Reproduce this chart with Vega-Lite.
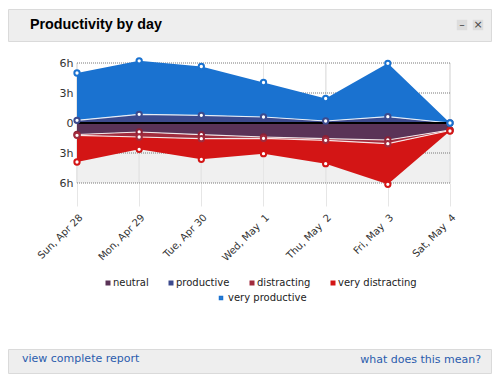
{
  "$schema": "https://vega.github.io/schema/vega-lite/v6.json",
  "background": "white",
  "padding": {"left": 7, "top": 8, "right": 8, "bottom": 9},
  "spacing": 0,
  "bounds": "flush",
  "config": {
    "view": {"stroke": null},
    "font": "DejaVu Sans",
    "axisX": {
      "labelAngle": -45, "labelAlign": "right", "labelBaseline": "top",
      "labelPadding": 6, "labelFontSize": 10, "labelColor": "#333333",
      "tickSize": 23, "tickColor": "#e6e6e6", "domain": false, "grid": false,
      "labelFlush": false, "labelOverlap": false, "labelBound": false
    },
    "axisY": {
      "domain": false, "ticks": false, "grid": false,
      "labelFontSize": 11, "labelColor": "#333333", "labelPadding": 1
    }
  },
  "title": {"text": "what does this mean?", "orient": "bottom", "anchor": "end", "frame": "group", "offset": -11, "dx": -10, "baseline": "alphabetic", "font": "DejaVu Sans", "fontSize": 11, "fontWeight": "normal", "color": "#2b5cad"},
  "resolve": {"scale": {"x": "independent", "y": "independent"}},
  "vconcat": [
    {
      "width": 483, "height": 32,
      "view": {"fill": "#eeeeee", "stroke": "#dadada"},
      "title": {"text": "Productivity by day", "orient": "top", "anchor": "start", "frame": "group", "offset": -34.5, "dx": 22, "baseline": "alphabetic", "font": "Liberation Sans", "fontSize": 14.3, "fontWeight": "bold", "color": "#000000"},
      "data": {"values": [{"button": "–"}, {"button": "×"}]},
      "encoding": {"x": {"field": "button", "type": "nominal", "sort": null, "scale": {"type": "point", "range": [454, 470], "padding": 0}, "axis": null}},
      "layer": [
        {"mark": {"type": "point", "shape": "square", "size": 110, "filled": true, "color": "#dddddd", "opacity": 1}},
        {"mark": {"type": "text", "fontSize": 11, "color": "#444444"}, "encoding": {"text": {"field": "button"}}}
      ]
    },
    {"width": 483, "height": 22, "data": {"values": []}, "mark": "point"},
    {
      "width": 483, "height": 120,
      "data": {"values": [
        {"date": "2013-04-28", "series": "neutral", "rank": 1, "hours": -1.15},
        {"date": "2013-04-28", "series": "productive", "rank": 2, "hours": 0.27},
        {"date": "2013-04-28", "series": "distracting", "rank": 3, "hours": -0.08},
        {"date": "2013-04-28", "series": "very distracting", "rank": 4, "hours": -2.67},
        {"date": "2013-04-28", "series": "very productive", "rank": 5, "hours": 4.73},
        {"date": "2013-04-29", "series": "neutral", "rank": 1, "hours": -0.9},
        {"date": "2013-04-29", "series": "productive", "rank": 2, "hours": 0.87},
        {"date": "2013-04-29", "series": "distracting", "rank": 3, "hours": -0.5},
        {"date": "2013-04-29", "series": "very distracting", "rank": 4, "hours": -1.23},
        {"date": "2013-04-29", "series": "very productive", "rank": 5, "hours": 5.35},
        {"date": "2013-04-30", "series": "neutral", "rank": 1, "hours": -1.17},
        {"date": "2013-04-30", "series": "productive", "rank": 2, "hours": 0.77},
        {"date": "2013-04-30", "series": "distracting", "rank": 3, "hours": -0.4},
        {"date": "2013-04-30", "series": "very distracting", "rank": 4, "hours": -2.06},
        {"date": "2013-04-30", "series": "very productive", "rank": 5, "hours": 4.88},
        {"date": "2013-05-01", "series": "neutral", "rank": 1, "hours": -1.4},
        {"date": "2013-05-01", "series": "productive", "rank": 2, "hours": 0.6},
        {"date": "2013-05-01", "series": "distracting", "rank": 3, "hours": -0.13},
        {"date": "2013-05-01", "series": "very distracting", "rank": 4, "hours": -1.54},
        {"date": "2013-05-01", "series": "very productive", "rank": 5, "hours": 3.45},
        {"date": "2013-05-02", "series": "neutral", "rank": 1, "hours": -1.57},
        {"date": "2013-05-02", "series": "productive", "rank": 2, "hours": 0.2},
        {"date": "2013-05-02", "series": "distracting", "rank": 3, "hours": -0.16},
        {"date": "2013-05-02", "series": "very distracting", "rank": 4, "hours": -2.34},
        {"date": "2013-05-02", "series": "very productive", "rank": 5, "hours": 2.25},
        {"date": "2013-05-03", "series": "neutral", "rank": 1, "hours": -1.7},
        {"date": "2013-05-03", "series": "productive", "rank": 2, "hours": 0.63},
        {"date": "2013-05-03", "series": "distracting", "rank": 3, "hours": -0.37},
        {"date": "2013-05-03", "series": "very distracting", "rank": 4, "hours": -4.06},
        {"date": "2013-05-03", "series": "very productive", "rank": 5, "hours": 5.34},
        {"date": "2013-05-04", "series": "neutral", "rank": 1, "hours": -0.7},
        {"date": "2013-05-04", "series": "productive", "rank": 2, "hours": 0},
        {"date": "2013-05-04", "series": "distracting", "rank": 3, "hours": -0.05},
        {"date": "2013-05-04", "series": "very distracting", "rank": 4, "hours": -0.05},
        {"date": "2013-05-04", "series": "very productive", "rank": 5, "hours": 0}
      ]},
      "transform": [{"stack": "hours", "groupby": ["date"], "sort": [{"field": "rank", "order": "ascending"}], "as": ["y0", "y1"], "offset": "zero"}],
      "layer": [
        {
          "data": {"values": [{}]},
          "mark": {"type": "rect", "color": "#f0f0f0"},
          "encoding": {
            "x": {"datum": {"year": 2013, "month": 4, "date": 28, "utc": true}, "type": "temporal",
              "axis": {"title": null, "values": [{"year": 2013, "month": 4, "date": 28, "utc": true}, {"year": 2013, "month": 4, "date": 29, "utc": true}, {"year": 2013, "month": 4, "date": 30, "utc": true}, {"year": 2013, "month": 5, "date": 1, "utc": true}, {"year": 2013, "month": 5, "date": 2, "utc": true}, {"year": 2013, "month": 5, "date": 3, "utc": true}, {"year": 2013, "month": 5, "date": 4, "utc": true}], "labelExpr": "replace(utcFormat(datum.value, '%a, %b %e'), '  ', ' \u00a0')"}},
            "x2": {"datum": {"year": 2013, "month": 5, "date": 4, "utc": true}},
            "y": {"datum": 0, "type": "quantitative",
              "axis": {"title": null, "values": [-6, -3, 0, 3, 6], "offset": -66, "labelExpr": "datum.value == 0 ? '0' : abs(datum.value) + 'h'"}},
            "y2": {"datum": -6}
          }
        },
        {
          "mark": {"type": "rule", "color": "#e6e6e6", "strokeWidth": 1},
          "encoding": {
            "x": {"field": "date", "type": "temporal",
              "axis": {"title": null, "values": [{"year": 2013, "month": 4, "date": 28, "utc": true}, {"year": 2013, "month": 4, "date": 29, "utc": true}, {"year": 2013, "month": 4, "date": 30, "utc": true}, {"year": 2013, "month": 5, "date": 1, "utc": true}, {"year": 2013, "month": 5, "date": 2, "utc": true}, {"year": 2013, "month": 5, "date": 3, "utc": true}, {"year": 2013, "month": 5, "date": 4, "utc": true}], "labelExpr": "replace(utcFormat(datum.value, '%a, %b %e'), '  ', ' \u00a0')"}},
            "y": {"datum": 6, "type": "quantitative",
              "axis": {"title": null, "values": [-6, -3, 0, 3, 6], "offset": -66, "labelExpr": "datum.value == 0 ? '0' : abs(datum.value) + 'h'"}},
            "y2": {"datum": -6}
          }
        },
        {
          "data": {"values": [{"h": 6}, {"h": 3}, {"h": -3}, {"h": -6}]},
          "mark": {"type": "rule", "color": "#777777", "strokeDash": [1, 1], "strokeWidth": 1},
          "encoding": {
            "y": {"field": "h", "type": "quantitative",
              "axis": {"title": null, "values": [-6, -3, 0, 3, 6], "offset": -66, "labelExpr": "datum.value == 0 ? '0' : abs(datum.value) + 'h'"}},
            "x": {"datum": {"year": 2013, "month": 4, "date": 28, "utc": true}, "type": "temporal",
              "axis": {"title": null, "values": [{"year": 2013, "month": 4, "date": 28, "utc": true}, {"year": 2013, "month": 4, "date": 29, "utc": true}, {"year": 2013, "month": 4, "date": 30, "utc": true}, {"year": 2013, "month": 5, "date": 1, "utc": true}, {"year": 2013, "month": 5, "date": 2, "utc": true}, {"year": 2013, "month": 5, "date": 3, "utc": true}, {"year": 2013, "month": 5, "date": 4, "utc": true}], "labelExpr": "replace(utcFormat(datum.value, '%a, %b %e'), '  ', ' \u00a0')"}},
            "x2": {"datum": {"year": 2013, "month": 5, "date": 4, "utc": true}}
          }
        },
        {
          "mark": {"type": "area", "opacity": 1},
          "encoding": {
            "x": {
              "field": "date", "type": "temporal",
              "scale": {"type": "utc", "nice": false, "domain": [
                {"year": 2013, "month": 4, "date": 26, "hours": 21, "minutes": 21, "seconds": 43, "utc": true},
                {"year": 2013, "month": 5, "date": 4, "hours": 15, "minutes": 49, "seconds": 43, "utc": true}
              ]},
              "axis": {"title": null, "values": [{"year": 2013, "month": 4, "date": 28, "utc": true}, {"year": 2013, "month": 4, "date": 29, "utc": true}, {"year": 2013, "month": 4, "date": 30, "utc": true}, {"year": 2013, "month": 5, "date": 1, "utc": true}, {"year": 2013, "month": 5, "date": 2, "utc": true}, {"year": 2013, "month": 5, "date": 3, "utc": true}, {"year": 2013, "month": 5, "date": 4, "utc": true}], "labelExpr": "replace(utcFormat(datum.value, '%a, %b %e'), '  ', ' \u00a0')"}
            },
            "y": {
              "field": "y1", "type": "quantitative",
              "scale": {"domain": [-6, 6], "nice": false, "zero": false},
              "axis": {"title": null, "values": [-6, -3, 0, 3, 6], "offset": -66, "labelExpr": "datum.value == 0 ? '0' : abs(datum.value) + 'h'"}
            },
            "y2": {"field": "y0"},
            "fill": {
              "field": "series", "type": "nominal",
              "scale": {"domain": ["neutral", "productive", "distracting", "very distracting", "very productive"], "range": ["#5a3357", "#3c4a8d", "#a12b3d", "#d31515", "#1a72d0"]},
              "legend": {
                "values": ["neutral", "productive", "distracting", "very distracting"],
                "orient": "none", "legendX": 95, "legendY": 269, "direction": "horizontal", "title": null,
                "symbolType": "square", "symbolSize": 25, "symbolStrokeWidth": 0,
                "labelFontSize": 10, "labelColor": "#222222", "labelOffset": 0, "columnPadding": 17
              }
            }
          }
        },
        {
          "transform": [{"filter": "datum.rank <= 3"}],
          "mark": {"type": "line", "color": "white", "strokeWidth": 1.2, "opacity": 0.85},
          "encoding": {
            "x": {"field": "date", "type": "temporal",
              "axis": {"title": null, "values": [{"year": 2013, "month": 4, "date": 28, "utc": true}, {"year": 2013, "month": 4, "date": 29, "utc": true}, {"year": 2013, "month": 4, "date": 30, "utc": true}, {"year": 2013, "month": 5, "date": 1, "utc": true}, {"year": 2013, "month": 5, "date": 2, "utc": true}, {"year": 2013, "month": 5, "date": 3, "utc": true}, {"year": 2013, "month": 5, "date": 4, "utc": true}], "labelExpr": "replace(utcFormat(datum.value, '%a, %b %e'), '  ', ' \u00a0')"}},
            "y": {"field": "y1", "type": "quantitative",
              "axis": {"title": null, "values": [-6, -3, 0, 3, 6], "offset": -66, "labelExpr": "datum.value == 0 ? '0' : abs(datum.value) + 'h'"}},
            "detail": {"field": "series"}
          }
        },
        {
          "data": {"values": [{}]},
          "mark": {"type": "rule", "color": "black", "strokeWidth": 2},
          "encoding": {
            "y": {"datum": 0, "type": "quantitative",
              "axis": {"title": null, "values": [-6, -3, 0, 3, 6], "offset": -66, "labelExpr": "datum.value == 0 ? '0' : abs(datum.value) + 'h'"}},
            "x": {"datum": {"year": 2013, "month": 4, "date": 28, "utc": true}, "type": "temporal",
              "axis": {"title": null, "values": [{"year": 2013, "month": 4, "date": 28, "utc": true}, {"year": 2013, "month": 4, "date": 29, "utc": true}, {"year": 2013, "month": 4, "date": 30, "utc": true}, {"year": 2013, "month": 5, "date": 1, "utc": true}, {"year": 2013, "month": 5, "date": 2, "utc": true}, {"year": 2013, "month": 5, "date": 3, "utc": true}, {"year": 2013, "month": 5, "date": 4, "utc": true}], "labelExpr": "replace(utcFormat(datum.value, '%a, %b %e'), '  ', ' \u00a0')"}},
            "x2": {"datum": {"year": 2013, "month": 5, "date": 4, "utc": true}}
          }
        },
        {
          "mark": {"type": "point", "shape": "circle", "filled": true, "fill": "white", "size": 28, "strokeWidth": 2, "opacity": 1},
          "encoding": {
            "x": {"field": "date", "type": "temporal",
              "axis": {"title": null, "values": [{"year": 2013, "month": 4, "date": 28, "utc": true}, {"year": 2013, "month": 4, "date": 29, "utc": true}, {"year": 2013, "month": 4, "date": 30, "utc": true}, {"year": 2013, "month": 5, "date": 1, "utc": true}, {"year": 2013, "month": 5, "date": 2, "utc": true}, {"year": 2013, "month": 5, "date": 3, "utc": true}, {"year": 2013, "month": 5, "date": 4, "utc": true}], "labelExpr": "replace(utcFormat(datum.value, '%a, %b %e'), '  ', ' \u00a0')"}},
            "y": {"field": "y1", "type": "quantitative",
              "axis": {"title": null, "values": [-6, -3, 0, 3, 6], "offset": -66, "labelExpr": "datum.value == 0 ? '0' : abs(datum.value) + 'h'"}},
            "stroke": {
              "field": "series", "type": "nominal",
              "scale": {"domain": ["very productive", "neutral", "productive", "distracting", "very distracting"], "range": ["#1a72d0", "#8c2035", "#3c4a8d", "#a12b3d", "#d31515"]},
              "legend": {
                "values": ["very productive"],
                "orient": "none", "legendX": 208, "legendY": 284, "direction": "horizontal", "title": null,
                "symbolType": "square", "symbolSize": 6.25, "symbolStrokeWidth": 2, "symbolFillColor": "#1a72d0",
                "labelFontSize": 10, "labelColor": "#222222", "labelOffset": 2
              }
            }
          }
        }
      ]
    },
    {"width": 483, "height": 166, "data": {"values": []}, "mark": "point"},
    {
      "width": 483, "height": 24,
      "view": {"fill": "#eeeeee", "stroke": "#dadada"},
      "data": {"values": []},
      "mark": "point",
      "title": {"text": "view complete report", "orient": "bottom", "anchor": "start", "frame": "group", "offset": -11, "dx": 14, "baseline": "alphabetic", "font": "DejaVu Sans", "fontSize": 11, "fontWeight": "normal", "color": "#2b5cad"}
    }
  ]
}
